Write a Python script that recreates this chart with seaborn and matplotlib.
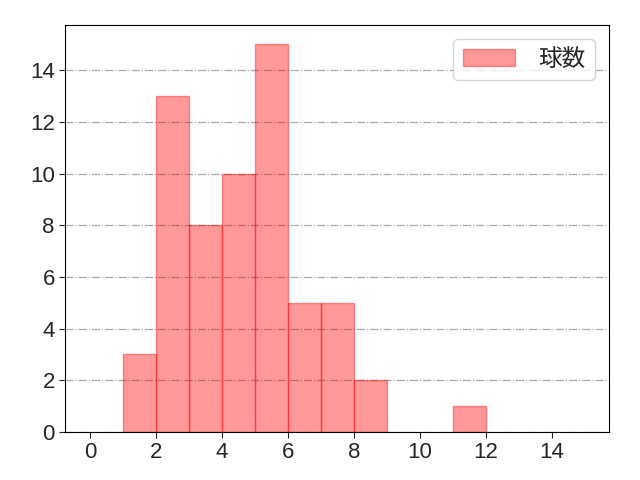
import numpy as np
import pandas as pd
import matplotlib
matplotlib.use("Agg")
import matplotlib.pyplot as plt
from matplotlib.patches import Patch
import seaborn as sns

# pitch counts per at-bat, binned by 1
bin_edges = list(range(0, 16))
bin_counts = [0, 3, 13, 8, 10, 15, 5, 5, 2, 0, 0, 1, 0, 0, 0]

# rebuild the raw values from the counts so histplot can bin them
vals = np.repeat([e + 0.5 for e in bin_edges[:-1]], bin_counts)
df = pd.DataFrame({"球数": vals})

sns.set_style("white")
plt.rcParams["font.family"] = ["Liberation Sans", "Noto Sans CJK JP"]

fig, ax = plt.subplots(figsize=(6.4, 4.8), dpi=100)
fig.subplots_adjust(left=0.102, right=0.952, top=0.948, bottom=0.1)
ax.set_axisbelow(True)
ax.grid(axis="y", linestyle="-.", color="#aaaaaa", linewidth=0.9)

sns.histplot(data=df, x="球数", bins=bin_edges, ax=ax,
             color="red", edgecolor="red", linewidth=1.0)
for p in ax.patches:
    p.set_alpha(0.4)  # face and edge both see-through
    if p.get_height() == 0:
        p.set_visible(False)

ax.set_xlim(-0.75, 15.75)
ax.set_ylim(0, 15.75)
ax.set_xticks(range(0, 16, 2))
ax.set_yticks(range(0, 16, 2))
ax.set_xlabel("")
ax.set_ylabel("")
ax.tick_params(labelsize=16, length=4, left=True, bottom=True)
for s in ax.spines.values():
    s.set_color("black")
    s.set_linewidth(0.8)

handle = Patch(facecolor="red", edgecolor="red", alpha=0.4)
ax.legend([handle], ["球数"], loc="upper right", fontsize=17,
          handlelength=2.2, handletextpad=1.0, borderaxespad=0.6)

plt.savefig("out.png")
